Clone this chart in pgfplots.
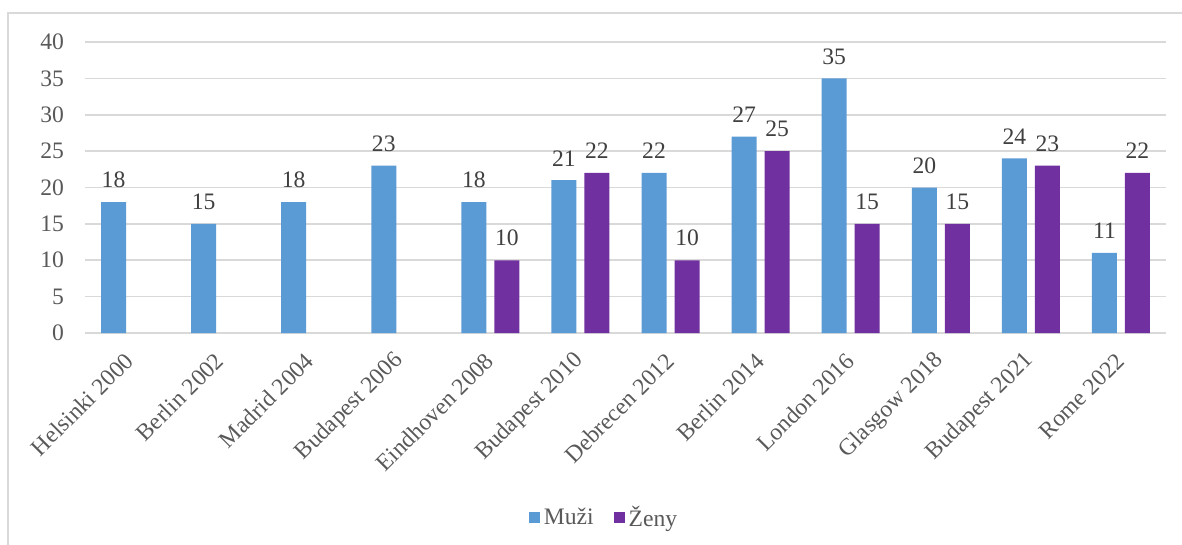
\documentclass[border=0pt]{standalone}
\usepackage{fontspec}
\setmainfont{Liberation Serif}
\usepackage{pgfplots}
\pgfplotsset{compat=1.18}
\definecolor{muzi}{HTML}{5B9BD5}
\definecolor{zeny}{HTML}{7030A0}
\definecolor{gridc}{HTML}{D9D9D9}
\definecolor{txt}{HTML}{595959}
\definecolor{lab}{HTML}{404040}
\newcommand{\chartfont}{\fontsize{11.8}{14}\selectfont}
\begin{document}
\begin{tikzpicture}[x=1pt,y=1pt]
\useasboundingbox (-42.5,-106) rectangle (548.5,166.5);
\draw[gridc, line width=0.8pt] (-38.5,-110) -- (-38.5,160) -- (560,160);
\begin{axis}[
  at={(0,0)}, anchor=south west,
  scale only axis,
  width=540.5pt, height=145.5pt,
  ybar=4pt,
  bar width=12.5pt,
  ymin=0, ymax=40,
  xmin=-0.5, xmax=11.5,
  ytick={0,5,...,40},
  ymajorgrids=true,
  grid style={gridc, line width=0.8pt},
  axis x line*=bottom,
  axis y line*=left,
  y axis line style={draw=none},
  x axis line style={gridc, line width=0.8pt, -},
  major tick length=0pt,
  xtick={0,...,11},
  xticklabels={Helsinki 2000, Berlin 2002, Madrid 2004, Budapest 2006, Eindhoven 2008, Budapest 2010, Debrecen 2012, Berlin 2014, London 2016, Glasgow 2018, Budapest 2021, Rome 2022},
  xticklabel style={rotate=45, anchor=east, font=\chartfont, text=txt, xshift=-5.3pt, yshift=-8.3pt},
  yticklabel style={font=\chartfont, text=txt, anchor=east, xshift=-7pt},
  /pgf/number format/assume math mode=true,
  nodes near coords,
  nodes near coords style={font=\chartfont, text=lab, anchor=south, yshift=3.5pt},
  legend image code/.code={\fill[#1, draw=none] (0pt,-2.5pt) rectangle (5.5pt,3pt);},
  legend style={at={(0.481,-0.636)}, anchor=center, draw=none, font=\chartfont, text=txt, legend columns=2, nodes={inner xsep=2pt}, /tikz/every even column/.append style={column sep=8pt}},
  clip=false,
]
\addplot[fill=muzi, draw=none] coordinates {
  (0,18) (1,15) (2,18) (3,23) (4,18) (5,21) (6,22) (7,27) (8,35) (9,20) (10,24) (11,11)
};
\addplot[fill=zeny, draw=none] coordinates {
  (4,10) (5,22) (6,10) (7,25) (8,15) (9,15) (10,23) (11,22)
};
\legend{Muži, Ženy}
\end{axis}
\end{tikzpicture}
\end{document}
